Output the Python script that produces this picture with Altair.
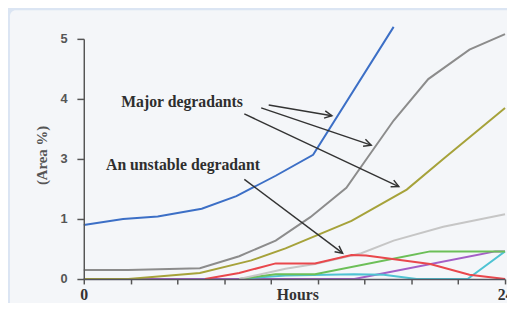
import math
import altair as alt
import pandas as pd

# ---- data (x in axis-tick units: 0 .. 9 -> 0 .. 24 h ; y in axis-tick units) ----
blue_x = [0, 0.84, 1.58, 2.52, 3.26, 4.10, 4.90, 6.62]
blue_y = [0.90, 1.00, 1.04, 1.17, 1.38, 1.72, 2.07, 4.20]

gray_x = [0, 0.95, 2.48, 3.32, 4.10, 4.84, 5.61, 6.06, 6.62, 7.36, 8.24, 9.0]
gray_y = [0.15, 0.15, 0.18, 0.38, 0.64, 1.03, 1.52, 2.02, 2.64, 3.33, 3.82, 4.08]

olive_x = [0, 0.95, 2.48, 3.32, 3.58, 4.31, 5.72, 6.90, 7.68, 9.0]
olive_y = [0, 0, 0.10, 0.26, 0.31, 0.51, 0.97, 1.49, 2.00, 2.85]

lgray_x = [3.32, 4.31, 4.94, 5.93, 6.62, 7.68, 9.0]
lgray_y = [0, 0.17, 0.25, 0.43, 0.64, 0.87, 1.08]

red_x = [2.59, 3.32, 4.10, 4.94, 5.72, 6.03, 7.40, 8.24, 9.0]
red_y = [0, 0.10, 0.26, 0.26, 0.40, 0.39, 0.25, 0.07, 0]

green_x = [3.32, 4.10, 4.94, 7.40, 9.0]
green_y = [0, 0.08, 0.08, 0.46, 0.46]

cyan_x = [3.32, 4.31, 5.78, 6.41, 7.11, 8.20, 9.0]
cyan_y = [0, 0.06, 0.08, 0.07, 0, 0, 0.46]

purple_x = [0, 5.78, 8.79, 9.0]
purple_y = [0, 0, 0.46, 0.46]

series_names = ["purple", "cyan", "green", "lgray", "red", "olive", "gray", "blue"]
series_colors = ["#a45fc6", "#4fc3d3", "#6cbf58", "#c6c6c6", "#e9474c", "#a6a23a", "#8c8c8c", "#3c6fc6"]
series_widths = [2, 2, 2, 2, 2.2, 2, 2, 2.5]
series_data = {
    "blue": (blue_x, blue_y), "gray": (gray_x, gray_y), "olive": (olive_x, olive_y),
    "lgray": (lgray_x, lgray_y), "red": (red_x, red_y), "green": (green_x, green_y),
    "cyan": (cyan_x, cyan_y), "purple": (purple_x, purple_y),
}

x_tick_values = list(range(10))
y_tick_values = [0, 1, 2, 3, 4]
y_tick_labels = ["0", "1", "3", "4", "5"]

label_texts = ["Major degradants", "An unstable degradant"]
label_x = [2.10, 2.12]
label_y = [2.95, 1.90]

arrow_x1 = [3.95, 3.79, 3.43, 3.43]
arrow_y1 = [2.90, 2.85, 2.75, 1.66]
arrow_x2 = [5.30, 6.14, 6.73, 5.53]
arrow_y2 = [2.72, 2.23, 1.54, 0.43]

W, H = 428, 244
XMAX, YMAX = 9, 4

rows = []
for s in series_names:
    xs_, ys_ = series_data[s]
    for i, (a, b) in enumerate(zip(xs_, ys_)):
        rows.append({"series": s, "t": a, "v": b, "o": i})
df = pd.DataFrame(rows)

arr = pd.DataFrame({"x1": arrow_x1, "y1": arrow_y1, "x2": arrow_x2, "y2": arrow_y2})
arr["ang"] = [
    math.degrees(math.atan2(-(b2 - b1) * H / YMAX, (a2 - a1) * W / XMAX)) % 360
    for a1, b1, a2, b2 in zip(arrow_x1, arrow_y1, arrow_x2, arrow_y2)
]
lab = pd.DataFrame({"text": label_texts, "x": label_x, "y": label_y})

ylab_expr = " : ".join(
    f"datum.value == {v} ? '{l}'" for v, l in zip(y_tick_values, y_tick_labels)
) + " : ''"

xs = alt.Scale(domain=[0, XMAX], nice=False, zero=False)
ys = alt.Scale(domain=[0, YMAX], nice=False)

panel = alt.Chart(pd.DataFrame({"a": [0]})).mark_rect(
    fill="#f4f6f9", cornerRadius=6
).encode(x=alt.value(-75), x2=alt.value(440), y=alt.value(-29), y2=alt.value(300))

lines = alt.Chart(df).mark_line().encode(
    x=alt.X("t:Q", scale=xs, axis=alt.Axis(
        values=x_tick_values, title="Hours", grid=False, zindex=1,
        labelExpr="datum.value == 0 ? '0' : datum.value == 9 ? '24' : ''",
        labelFont="Liberation Serif", labelFontWeight="bold", labelFontSize=16,
        labelColor="#333333", labelBaseline="middle", labelPadding=11,
        tickSize=5, tickWidth=1.5, tickColor="#555555", domainColor="#55555f", domainWidth=1.5,
        titleFont="Liberation Serif", titleFontWeight="bold", titleFontSize=16,
        titleColor="#333333", titleBaseline="middle", titleY=16, titleX=217,
        labelFlush=False, labelOverlap=False)),
    y=alt.Y("v:Q", scale=ys, axis=alt.Axis(
        values=y_tick_values, title="(Area %)", grid=False, labelExpr=ylab_expr, zindex=1,
        labelFont="Liberation Sans", labelFontWeight="bold", labelFontSize=13,
        labelColor="#555555", labelPadding=10, tickSize=7, tickWidth=1.5, tickColor="#555555",
        domainColor="#555555", domainWidth=1.5,
        titleFont="Liberation Serif", titleFontWeight="bold", titleFontSize=15,
        titleColor="#555555", titleX=-43, titleY=118, titleAngle=270,
        titleAlign="center", titleBaseline="middle")),
    color=alt.Color("series:N", scale=alt.Scale(domain=series_names, range=series_colors), legend=None),
    strokeWidth=alt.StrokeWidth("series:N", scale=alt.Scale(domain=series_names, range=series_widths), legend=None),
    order="o:Q",
    detail="series:N",
)

rules = alt.Chart(arr).mark_rule(color="#333333", strokeWidth=1.5).encode(
    x=alt.X("x1:Q", scale=xs), y=alt.Y("y1:Q", scale=ys),
    x2="x2:Q", y2="y2:Q",
)
heads = alt.Chart(arr).mark_point(
    shape="M-1,-0.5L0,0L-1,0.5", filled=False, stroke="#333333", strokeWidth=1.5,
    size=220, opacity=1,
).encode(x=alt.X("x2:Q", scale=xs), y=alt.Y("y2:Q", scale=ys), angle=alt.Angle("ang:Q", scale=None))

texts = alt.Chart(lab).mark_text(
    font="Liberation Serif", fontWeight="bold", fontSize=16, color="#2e2e2e",
    align="center", baseline="middle",
).encode(x=alt.X("x:Q", scale=xs), y=alt.Y("y:Q", scale=ys), text="text:N")

chart = alt.layer(panel, lines, rules, heads, texts).properties(
    width=W, height=H,
    autosize=alt.AutoSizeParams(type="none"),
    padding={"left": 77, "top": 29, "right": 2, "bottom": 22},
    background="#dbe5f3",
).configure_view(stroke=None)

chart.save("out.html", embed_options={"renderer": "svg", "actions": False})
